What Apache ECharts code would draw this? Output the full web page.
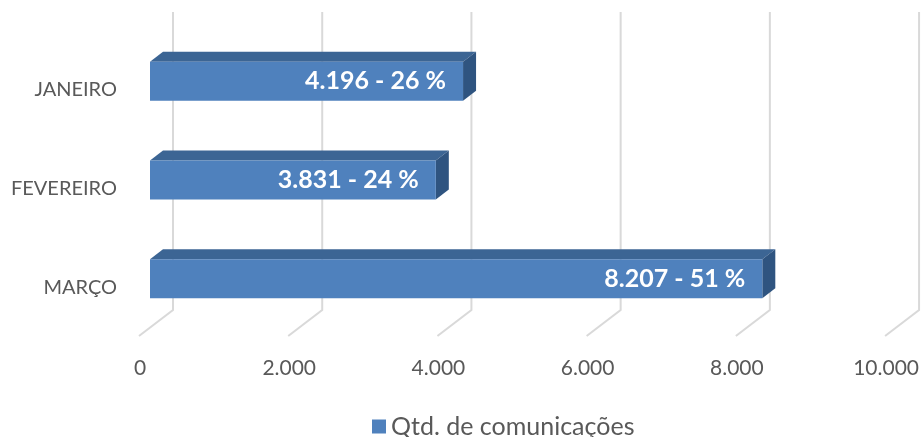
<!DOCTYPE html>
<html>
<head>
<meta charset="utf-8">
<script src="https://cdn.jsdelivr.net/npm/echarts@6/dist/echarts.min.js"></script>
<style>
    html, body { margin: 0; padding: 0; background: #fff; }
    #chart { width: 922px; height: 437px; }
</style>
</head>
<body>
<div id="chart"></div>
<script>
    let categories = ['JANEIRO', 'FEVEREIRO', 'MARÇO']
    let values = [4196, 3831, 8207]
    let percents = [26, 24, 51]
    let xTicks = [0, 2000, 4000, 6000, 8000, 10000]
    let seriesName = 'Qtd. de comunicações'

    let font = 'Lato, "Open Sans", sans-serif'
    let fmt = v => String(v).replace(/\B(?=(\d{3})+(?!\d))/g, '.')

    // bar depth (pseudo 3d like the excel chart)
    let dx = 13, dy = 10

    let chart = echarts.init(document.getElementById('chart'))
    chart.setOption({
        backgroundColor: '#fff',
        animation: false,
        legend: {
            top: 409,
            left: 367,
            data: [seriesName],
            icon: 'rect',
            itemWidth: 14,
            itemHeight: 14,
            itemGap: 8,
            textStyle: { fontFamily: font, fontSize: 25, color: '#595959' }
        },
        grid: { left: 150, right: 22, top: 32, bottom: 109, containLabel: false },
        xAxis: {
            type: 'value',
            min: 0,
            max: 10000,
            interval: 2000,
            axisLine: { show: false },
            axisTick: { show: false },
            splitLine: { show: false },
            axisLabel: {
                margin: 30,
                fontFamily: font,
                fontSize: 21,
                color: '#595959',
                padding: [0, 20, 0, 0],
                formatter: v => fmt(v)
            }
        },
        yAxis: {
            type: 'category',
            inverse: true,
            data: categories,
            axisLine: { show: false },
            axisTick: { show: false },
            axisLabel: {
                margin: 33,
                fontFamily: font,
                fontSize: 20,
                color: '#595959',
                verticalAlign: 'top',
                lineHeight: 17
            }
        },
        series: [
            {
                // back wall + floor grid lines
                type: 'custom',
                name: 'wall',
                silent: true,
                z: 1,
                data: xTicks.map(v => [v, 0]),
                renderItem: function (params, api) {
                    let cs = params.coordSys
                    let x = api.coord([api.value(0), 0])[0]
                    let top = cs.y - 20
                    let back = cs.y + cs.height - 18
                    let front = cs.y + cs.height + 8
                    return {
                        type: 'polyline',
                        shape: { points: [[x + 23, top], [x + 23, back], [x - 11, front]] },
                        style: { stroke: '#d9d9d9', lineWidth: 2, fill: null }
                    }
                }
            },
            {
                type: 'custom',
                name: seriesName,
                z: 3,
                itemStyle: { color: '#4f81bd' },
                data: values.map((v, i) => [v, i]),
                renderItem: function (params, api) {
                    let v = api.value(0)
                    let i = api.value(1)
                    let p0 = api.coord([0, i])
                    let p1 = api.coord([v, i])
                    let h = 39
                    let x0 = p0[0], x1 = p1[0]
                    let yt = p0[1] - h / 2, yb = p0[1] + h / 2
                    return {
                        type: 'group',
                        children: [
                            {
                                type: 'polygon',
                                shape: { points: [[x0, yt], [x0 + dx, yt - dy], [x1 + dx, yt - dy], [x1, yt]] },
                                style: { fill: '#3c6594' }
                            },
                            {
                                type: 'polygon',
                                shape: { points: [[x1, yt], [x1 + dx, yt - dy], [x1 + dx, yb - dy], [x1, yb]] },
                                style: { fill: '#2f5480' }
                            },
                            {
                                type: 'rect',
                                shape: { x: x0, y: yt, width: x1 - x0, height: h },
                                style: { fill: '#4f81bd' }
                            },
                            {
                                type: 'text',
                                style: {
                                    x: x1 - 17,
                                    y: p0[1],
                                    text: fmt(v) + ' - ' + percents[i] + ' %',
                                    fill: '#fff',
                                    font: 'bold 25px ' + font,
                                    align: 'right',
                                    verticalAlign: 'middle'
                                }
                            }
                        ]
                    }
                }
            }
        ]
    })
</script>
</body>
</html>
